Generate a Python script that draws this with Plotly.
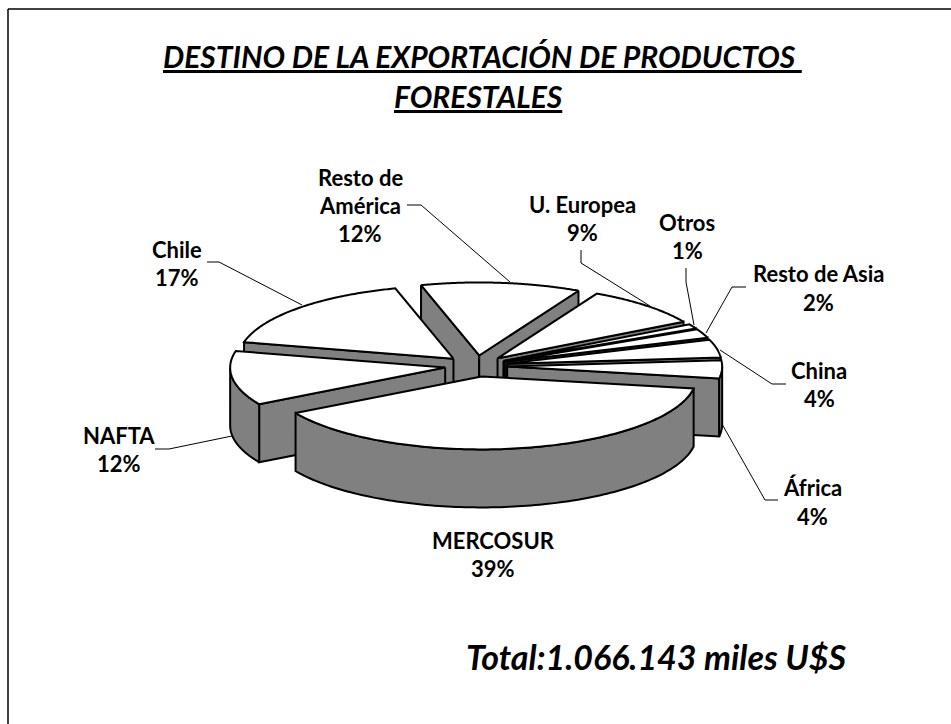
"""
Destino de la exportacion de productos forestales: exploded 3D-look pie drawn with scatter polygons.
"""

import numpy as np
import plotly.graph_objects as go

# slices clockwise on screen, starting at the right edge of MERCOSUR
categories = ["MERCOSUR", "NAFTA", "Chile", "Resto de América", "U. Europea",
              "Otros", "Resto de Asia", "China", "África"]
shares = [39, 12, 17, 12, 9, 1, 2, 4, 4]

title_lines = ["DESTINO DE LA EXPORTACIÓN DE PRODUCTOS ", "FORESTALES"]
total_label = "Total:1.066.143 miles U$S"

FONT = "Lato"
LABEL_SIZE = 22
CENTER_X, CENTER_Y = 476, 366
RX, RY = 215, 73
DEPTH = 58
EXPLODE = 0.145
START_DEG = 9.5
GREY = "#808080"

# label text lines: (center x, first line y, line gap), leader polyline
label_layout = {
    "MERCOSUR": (493, 540, 28, None),
    "NAFTA": (119, 435, 28, [(155, 449), (169, 449), (232, 436)]),
    "Chile": (177, 249, 28, [(207, 262), (219, 262), (302, 305)]),
    "Resto de América": (360, 177, 28, [(407, 205), (421, 205), (510, 282)]),
    "U. Europea": (582, 204, 28, [(581, 250), (581, 263), (650, 306)]),
    "Otros": (687, 222, 28, [(686, 268), (686, 282), (694, 325)]),
    "Resto de Asia": (818, 273, 29, [(746, 287), (732, 287), (706, 333)]),
    "China": (819, 370, 28, [(786, 384), (772, 384), (720, 350)]),
    "África": (812, 487, 29, [(778, 500), (765, 500), (722, 424)]),
}
label_lines = {"Resto de América": ["Resto de", "América"]}


def ring(t, cx, cy, dy=0):
    return cx + RX * np.cos(t), cy + RY * np.sin(t) + dy


def add_poly(fig, x, y, fill):
    fig.add_trace(go.Scatter(
        x=list(x) + [x[0]], y=list(y) + [y[0]], mode="lines", fill="toself",
        fillcolor=fill, line=dict(color="black", width=2, simplify=False),
        hoverinfo="skip", showlegend=False,
    ))


def add_slice(fig, a, b):
    mid = (a + b) / 2
    cx = CENTER_X + EXPLODE * RX * np.cos(mid)
    cy = CENTER_Y + EXPLODE * RY * np.sin(mid)

    # radial walls, only when they face the viewer
    for edge, visible in ((a, np.cos(a) < 0), (b, np.cos(b) > 0)):
        if visible:
            ex, ey = ring(edge, cx, cy)
            add_poly(fig, [cx, ex, ex, cx], [cy, ey, ey + DEPTH, cy + DEPTH], GREY)

    # outer wall, the part of the rim on the near side
    t = np.linspace(a, b, 120)
    t = t[np.sin(t) >= 0]
    if len(t) > 1:
        rx, ry = ring(t, cx, cy)
        add_poly(fig, np.r_[rx, rx[::-1]], np.r_[ry, ry[::-1] + DEPTH], GREY)

    # top face
    t = np.linspace(a, b, 120)
    rx, ry = ring(t, cx, cy)
    add_poly(fig, np.r_[cx, rx], np.r_[cy, ry], "white")


fig = go.Figure()

sweeps = np.radians(np.array(shares) * 3.6)
starts = np.radians(START_DEG) + np.r_[0, np.cumsum(sweeps)[:-1]]
ends = starts + sweeps

# back slices first so the near ones paint over them
for i in np.argsort(np.sin((starts + ends) / 2)):
    add_slice(fig, starts[i], ends[i])

annotations = []


def add_text(x, y, text, size, bold=True):
    annotations.append(dict(
        x=x, y=y, xref="x", yref="y", text=f"<b>{text}</b>" if bold else text,
        showarrow=False, xanchor="center", yanchor="middle",
        font=dict(family=FONT, size=size, color="black"),
    ))


for name, share in zip(categories, shares):
    cx, y0, gap, leader = label_layout[name]
    lines = label_lines.get(name, [name]) + [f"{share}%"]
    for k, line in enumerate(lines):
        add_text(cx, y0 + k * gap, line, LABEL_SIZE)
    if leader:
        fig.add_trace(go.Scatter(
            x=[p[0] for p in leader], y=[p[1] for p in leader], mode="lines",
            line=dict(color="black", width=1), hoverinfo="skip", showlegend=False,
        ))

add_text(482, 56, f"<i><u>{title_lines[0]}</u></i>", 30)
add_text(478, 96, f"<i><u>{title_lines[1]}</u></i>", 30)
add_text(656, 656, f"<i>{total_label}</i>", 34)

# chart frame, only top and left edges fall inside the page
fig.add_shape(type="line", x0=8, x1=951, y0=9, y1=9, line=dict(color="black", width=1.5))
fig.add_shape(type="line", x0=8, x1=8, y0=9, y1=724, line=dict(color="black", width=1.5))

fig.update_layout(
    width=951, height=724, margin=dict(l=0, r=0, t=0, b=0),
    paper_bgcolor="white", plot_bgcolor="white", showlegend=False,
    xaxis=dict(range=[0, 951], visible=False, fixedrange=True),
    yaxis=dict(range=[724, 0], visible=False, fixedrange=True),
    annotations=annotations,
)

fig.write_html("out.html", config={"displayModeBar": False},
               post_script="document.body.style.margin='0';document.body.style.overflow='hidden';")
